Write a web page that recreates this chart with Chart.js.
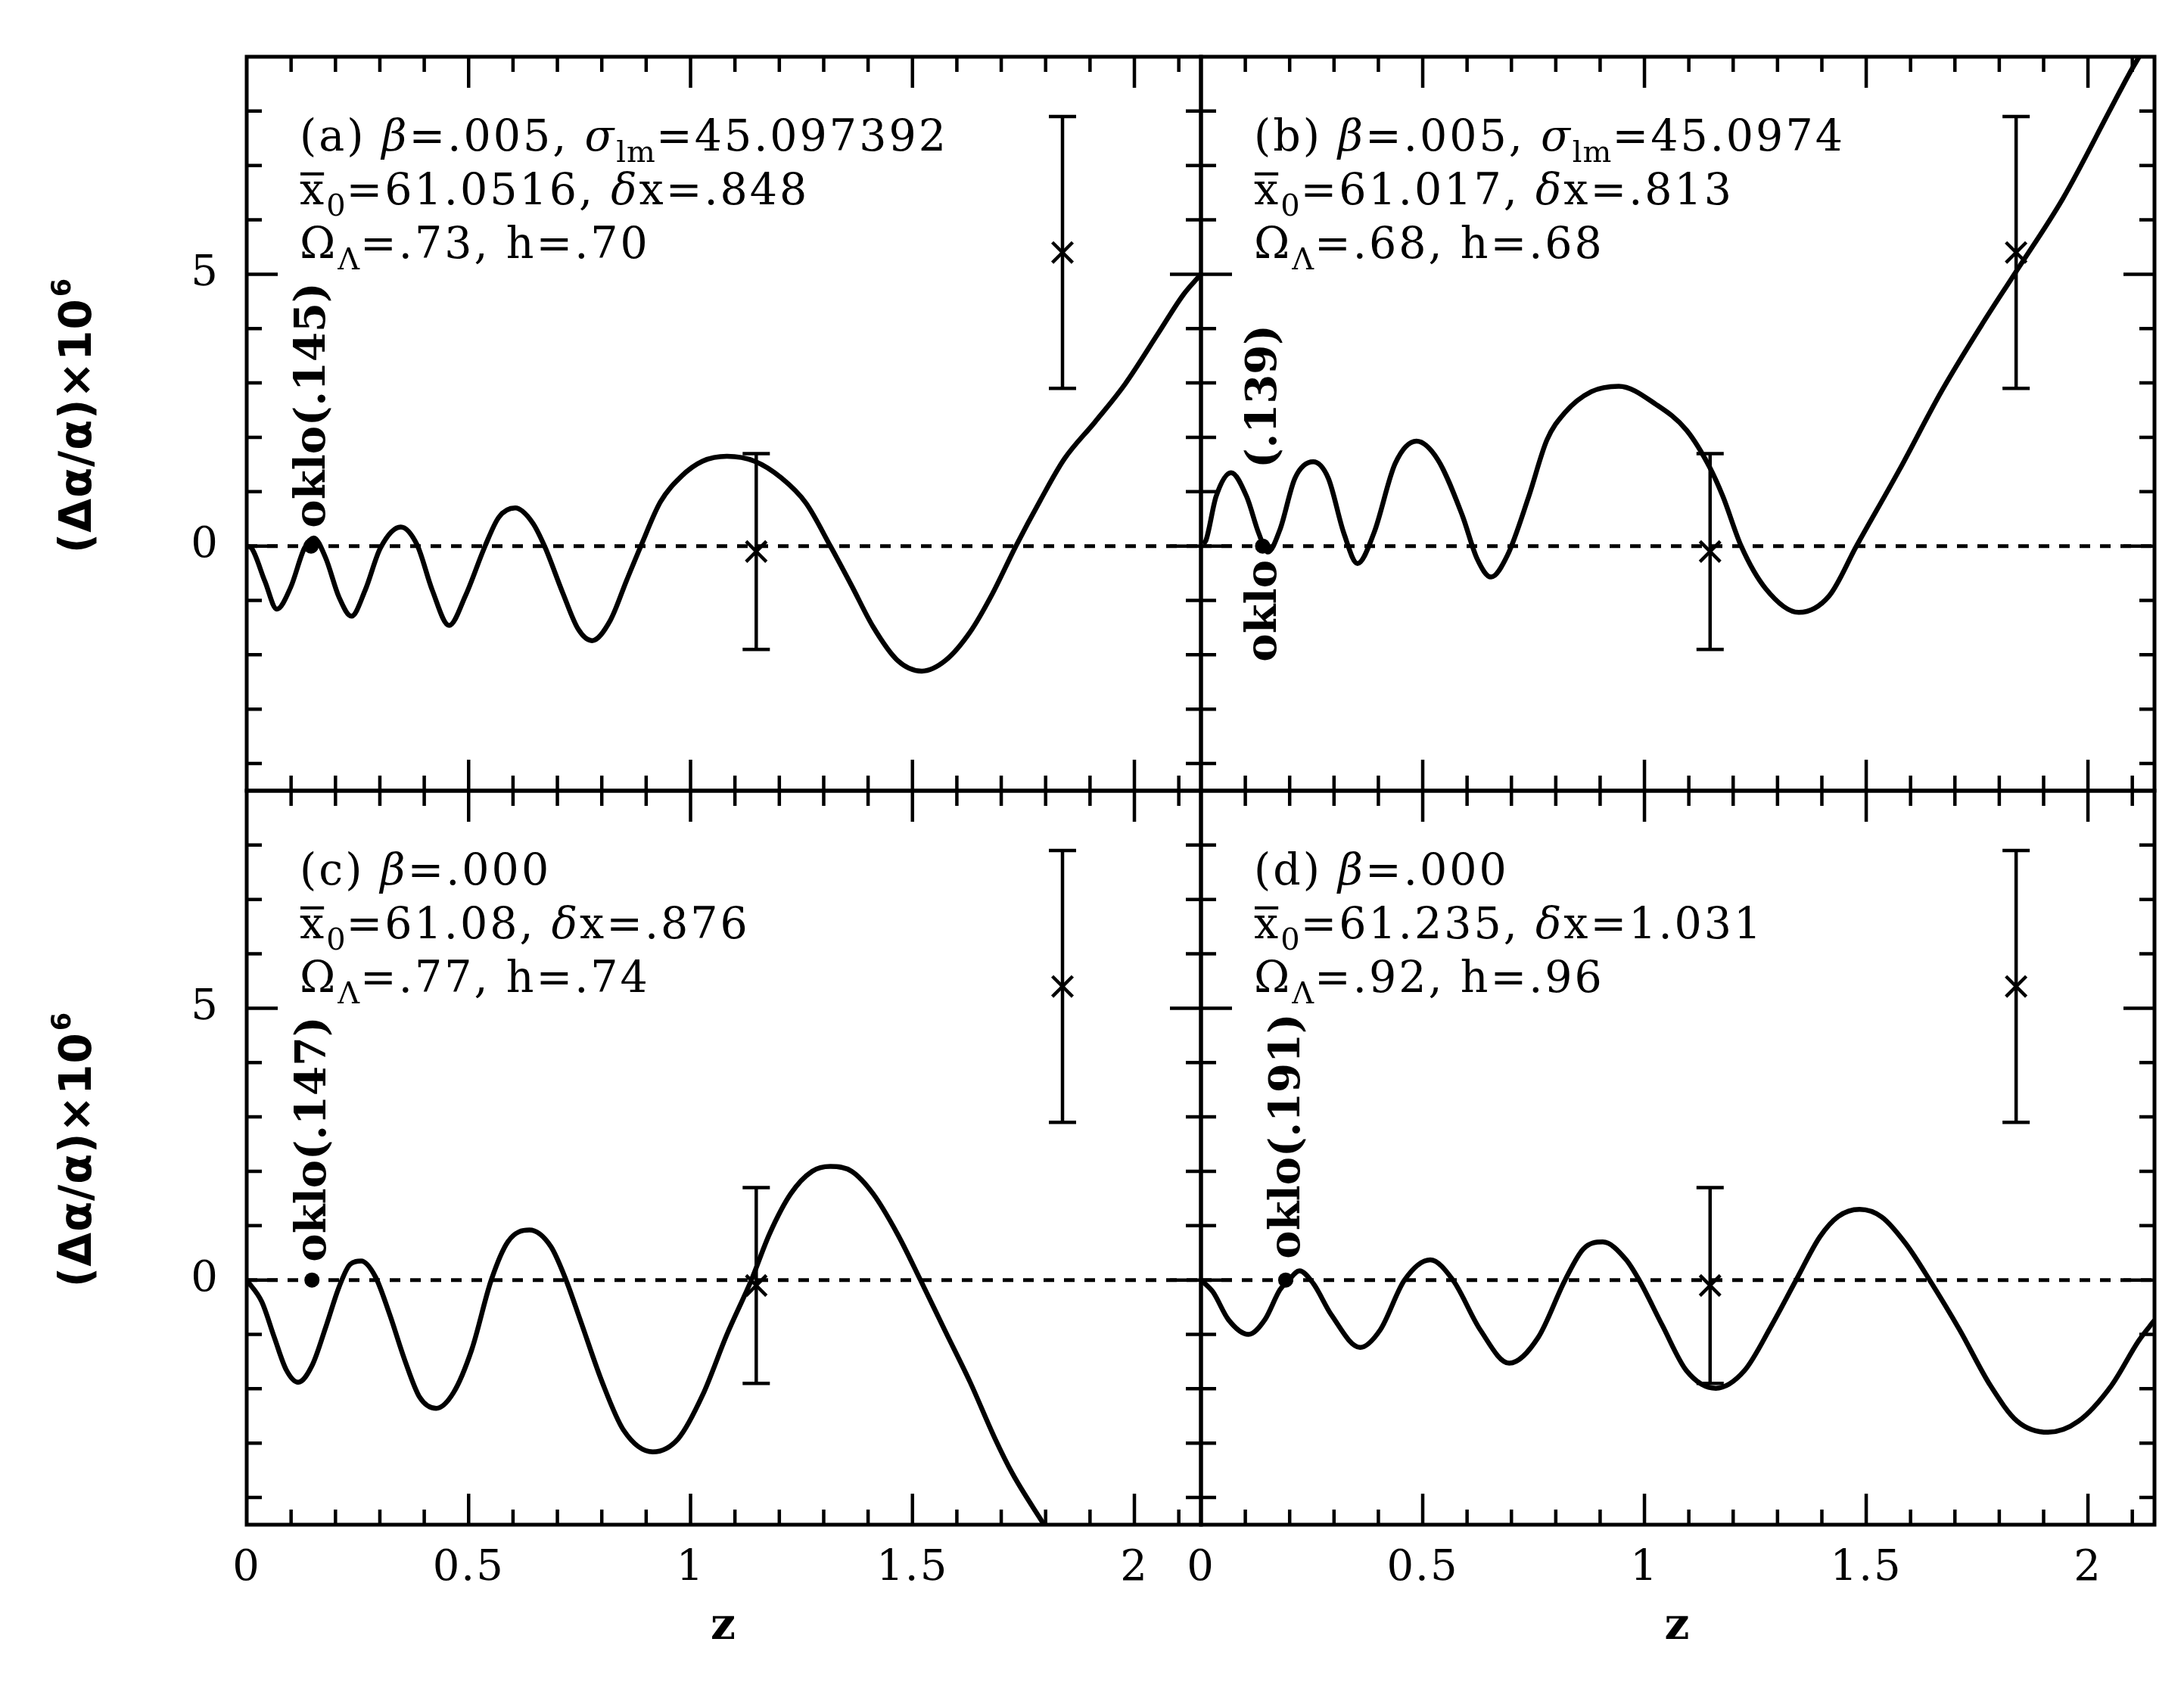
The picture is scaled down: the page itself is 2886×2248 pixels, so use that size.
<!DOCTYPE html>
<html>
<head>
<meta charset="utf-8">
<script src="https://cdn.jsdelivr.net/npm/chart.js@4.4.0/dist/chart.umd.min.js"></script>
<style>
  html, body { margin: 0; background: #fff; }
  #wrap { position: relative; width: 2886px; height: 2248px; }
  #wrap canvas { position: absolute; left: 0; top: 0; }
</style>
</head>
<body>
<div id="wrap">
  <canvas id="pa" width="2886" height="2248"></canvas>
  <canvas id="pb" width="2886" height="2248"></canvas>
  <canvas id="pc" width="2886" height="2248"></canvas>
  <canvas id="pd" width="2886" height="2248"></canvas>
</div>
<script>
// ── Data ───────────────────────────────────────
const zA = [0, 0.011, 0.041, 0.068, 0.099, 0.13, 0.151, 0.178, 0.208, 0.236, 0.267, 0.301, 0.347, 0.384,
            0.418, 0.456, 0.493, 0.537, 0.568, 0.605, 0.644, 0.671, 0.712, 0.747, 0.778, 0.819, 0.856,
            0.888, 0.932, 0.979, 1.027, 1.082, 1.144, 1.205, 1.26, 1.315, 1.363, 1.411, 1.466, 1.521,
            1.575, 1.63, 1.678, 1.733, 1.788, 1.842, 1.911, 1.979, 2.055, 2.11, 2.15];
const vA = [0, -0.04, -0.65, -1.16, -0.76, -0.04, 0.15, -0.22, -0.94, -1.29, -0.81, -0.04, 0.35, 0.02,
            -0.81, -1.46, -0.91, 0, 0.53, 0.70, 0.43, 0, -0.86, -1.53, -1.74, -1.37, -0.63,
            0, 0.81, 1.28, 1.56, 1.65, 1.56, 1.25, 0.79, 0, -0.73, -1.48, -2.10, -2.30,
            -2.10, -1.58, -0.91, 0, 0.84, 1.60, 2.28, 2.98, 3.93, 4.62, 5.0];

const zB = [0.004, 0.011, 0.034, 0.068, 0.103, 0.13, 0.151, 0.178, 0.212, 0.253, 0.287, 0.322, 0.353, 0.39,
            0.438, 0.486, 0.534, 0.589, 0.623, 0.654, 0.691, 0.739, 0.78, 0.82, 0.88, 0.942, 1.027, 1.095,
            1.147, 1.177, 1.218, 1.273, 1.348, 1.417, 1.478, 1.574, 1.67, 1.759, 1.834, 1.944, 2.053,
            2.094, 2.119, 2.15];
const vB = [0.05, 0.10, 0.91, 1.35, 0.91, 0.24, -0.11, 0.30, 1.25, 1.55, 1.25, 0.24, -0.32, 0.24,
            1.52, 1.93, 1.59, 0.57, -0.24, -0.57, -0.17, 0.91, 1.95, 2.45, 2.84, 2.94, 2.60, 2.13,
            1.45, 0.91, 0, -0.78, -1.22, -0.91, 0, 1.39, 2.85, 4.05, 5.0, 6.40, 8.07,
            8.70, 9.05, 9.50];

const zC = [0, 0.034, 0.062, 0.089, 0.116, 0.148, 0.178, 0.208, 0.233, 0.258, 0.29, 0.322, 0.356, 0.39,
            0.427, 0.466, 0.507, 0.551, 0.589, 0.637, 0.685, 0.719, 0.753, 0.801, 0.849, 0.915, 0.973,
            1.027, 1.082, 1.137, 1.178, 1.226, 1.274, 1.315, 1.363, 1.411, 1.466, 1.518, 1.575, 1.63,
            1.685, 1.726, 1.795, 1.83];
const vC = [0, -0.40, -1.05, -1.65, -1.88, -1.56, -0.87, -0.13, 0.29, 0.35, 0.06, -0.63, -1.47, -2.16,
            -2.36, -2.07, -1.28, 0, 0.71, 0.92, 0.62, 0.01, -0.77, -1.88, -2.76, -3.16, -2.91,
            -2.12, -1.00, 0, 0.85, 1.59, 2.0, 2.09, 2.0, 1.59, 0.85, 0, -0.96, -1.88,
            -2.90, -3.57, -4.48, -4.93];

const zD = [0, 0.027, 0.062, 0.107, 0.144, 0.178, 0.198, 0.222, 0.253, 0.294, 0.359, 0.404, 0.459, 0.517,
            0.568, 0.63, 0.695, 0.76, 0.821, 0.862, 0.906, 0.958, 0.988, 1.04, 1.095, 1.161, 1.225,
            1.287, 1.342, 1.396, 1.437, 1.485, 1.535, 1.59, 1.643, 1.711, 1.78, 1.841, 1.91, 1.978,
            2.053, 2.115, 2.15];
const vD = [0, -0.22, -0.73, -1.0, -0.73, -0.18, 0, 0.17, -0.06, -0.64, -1.24, -0.92, 0, 0.37,
            0, -0.92, -1.53, -1.06, 0, 0.57, 0.70, 0.38, 0, -0.83, -1.67, -1.99, -1.67,
            -0.83, 0, 0.80, 1.17, 1.30, 1.16, 0.66, 0, -0.92, -1.94, -2.60, -2.80, -2.60,
            -1.94, -1.11, -0.74];

// observed points with error bars (same in every panel)
const obsZ  = [1.148, 1.838];
const obsV  = [-0.1, 5.4];
const obsLo = [-1.9, 2.9];
const obsHi = [1.7, 7.9];

// oklo constraint
const okloZ = [0.145, 0.139, 0.147, 0.191];

// tick labels
const xTickVals   = [0, 0.5, 1, 1.5, 2];
const xTickLabels = ['0', '0.5', '1', '1.5', '2'];
const yTickVals   = [0, 5];
const yTickLabels = ['0', '5'];

// panel annotations: [text, style]  i = italic, s = subscript, b = overbar
const notesA = [
  [['(a) '], ['β', 'i'], ['=.005, '], ['σ', 'i'], ['lm', 's'], ['=45.097392']],
  [['x', 'b'], ['0', 's'], ['=61.0516, '], ['δ', 'i'], ['x=.848']],
  [['Ω'], ['Λ', 's'], ['=.73, h=.70']]
];
const notesB = [
  [['(b) '], ['β', 'i'], ['=.005, '], ['σ', 'i'], ['lm', 's'], ['=45.0974']],
  [['x', 'b'], ['0', 's'], ['=61.017, '], ['δ', 'i'], ['x=.813']],
  [['Ω'], ['Λ', 's'], ['=.68, h=.68']]
];
const notesC = [
  [['(c) '], ['β', 'i'], ['=.000']],
  [['x', 'b'], ['0', 's'], ['=61.08, '], ['δ', 'i'], ['x=.876']],
  [['Ω'], ['Λ', 's'], ['=.77, h=.74']]
];
const notesD = [
  [['(d) '], ['β', 'i'], ['=.000']],
  [['x', 'b'], ['0', 's'], ['=61.235, '], ['δ', 'i'], ['x=1.031']],
  [['Ω'], ['Λ', 's'], ['=.92, h=.96']]
];

// ── Layout ─────────────────────────────────────
const PAGE_W = 2886, PAGE_H = 2248;
const Z_MAX = 2.15, V_MIN = -4.5, V_MAX = 9;
const colX = [326, 1587, 2847];
const rowY = [75, 1045, 2015];
const SERIF = '"DejaVu Serif", serif';
const SANS  = '"DejaVu Sans", sans-serif';

// ── Rich text helper ───────────────────────────
function drawRich(ctx, parts, x, y, size) {
  let cx = x;
  ctx.textAlign = 'left';
  ctx.textBaseline = 'alphabetic';
  parts.forEach(([t, st]) => {
    const sub = st === 's';
    const fs = sub ? size * 0.7 : size;
    ctx.font = (st === 'i' ? 'italic ' : '') + fs + 'px ' + SERIF;
    ctx.letterSpacing = sub ? '1px' : '3px';
    const dy = sub ? size * 0.27 : 0;
    ctx.fillText(t, cx, y + dy);
    const w = ctx.measureText(t).width;
    if (st === 'b') {
      ctx.fillRect(cx + 1, y - size * 0.74, w - 4, 4);
    }
    cx += w;
  });
  ctx.letterSpacing = '0px';
}

function drawRotated(ctx, text, x, y, font) {
  ctx.save();
  ctx.translate(x, y);
  ctx.rotate(-Math.PI / 2);
  ctx.font = font;
  ctx.textAlign = 'left';
  ctx.textBaseline = 'alphabetic';
  ctx.fillText(text, 0, 0);
  ctx.restore();
}

// ── Decoration plugin (frame, ticks, error bars, text) ──
function makeDeco(p) {
  return {
    id: 'deco',
    afterDatasetsDraw(chart) {
      const { ctx, chartArea: a, scales: { x, y } } = chart;
      ctx.save();
      ctx.strokeStyle = '#000';
      ctx.fillStyle = '#000';

      // error bars
      ctx.lineWidth = 4.5;
      ctx.beginPath();
      obsZ.forEach((z, i) => {
        const px = x.getPixelForValue(z);
        const lo = y.getPixelForValue(obsLo[i]);
        const hi = y.getPixelForValue(obsHi[i]);
        ctx.moveTo(px, lo); ctx.lineTo(px, hi);
        ctx.moveTo(px - 18, lo); ctx.lineTo(px + 18, lo);
        ctx.moveTo(px - 18, hi); ctx.lineTo(px + 18, hi);
      });
      ctx.stroke();

      // frame
      ctx.lineWidth = 5;
      ctx.strokeRect(a.left, a.top, a.right - a.left, a.bottom - a.top);

      // ticks on all four sides, pointing inward
      ctx.lineWidth = 4.5;
      ctx.beginPath();
      for (let k = 1; k <= Math.floor(Z_MAX * 10 + 1e-6); k++) {
        const px = x.getPixelForValue(k / 10);
        const len = k % 5 === 0 ? 41 : 20;
        ctx.moveTo(px, a.top);    ctx.lineTo(px, a.top + len);
        ctx.moveTo(px, a.bottom); ctx.lineTo(px, a.bottom - len);
      }
      for (let v = Math.ceil(V_MIN); v < V_MAX; v++) {
        const py = y.getPixelForValue(v);
        const len = v % 5 === 0 ? 41 : 20;
        ctx.moveTo(a.left, py);  ctx.lineTo(a.left + len, py);
        ctx.moveTo(a.right, py); ctx.lineTo(a.right - len, py);
      }
      ctx.stroke();

      // tick labels
      ctx.font = '56px ' + SERIF;
      ctx.letterSpacing = '2px';
      ctx.textBaseline = 'middle';
      if (p.yLabels) {
        ctx.textAlign = 'right';
        yTickVals.forEach((v, i) => ctx.fillText(yTickLabels[i], a.left - 36, y.getPixelForValue(v)));
      }
      if (p.xLabels) {
        ctx.textAlign = 'center';
        xTickVals.forEach((v, i) => ctx.fillText(xTickLabels[i], x.getPixelForValue(v), a.bottom + 58));
        ctx.font = 'bold 58px ' + SERIF;
        ctx.fillText('z', (a.left + a.right) / 2, a.bottom + 136);
      }
      ctx.letterSpacing = '0px';

      // y axis title
      if (p.yLabels) {
        const cy = (a.top + a.bottom) / 2 - 10;
        ctx.save();
        ctx.translate(120, cy);
        ctx.rotate(-Math.PI / 2);
        ctx.textBaseline = 'alphabetic';
        ctx.textAlign = 'left';
        ctx.letterSpacing = '1px';
        ctx.font = 'bold 58px ' + SANS;
        const main = '(Δα/α)×10';
        const wMain = ctx.measureText(main).width;
        ctx.font = 'bold 35px ' + SANS;
        const wSup = ctx.measureText('6').width;
        const x0 = -(wMain + wSup) / 2;
        ctx.font = 'bold 58px ' + SANS;
        ctx.fillText(main, x0, 0);
        ctx.font = 'bold 35px ' + SANS;
        ctx.fillText('6', x0 + wMain + 2, -27);
        ctx.restore();
      }

      // panel annotation
      p.notes.forEach((line, i) => drawRich(ctx, line, a.left + 70, a.top + 124 + i * 71, 57));

      // oklo label
      const ox = x.getPixelForValue(p.oklo) + 18;
      const oy = y.getPixelForValue(0);
      p.okloText.forEach(([t, dy]) => drawRotated(ctx, t, ox, oy + dy, 'bold 56px ' + SERIF));

      ctx.restore();
    }
  };
}

// ── Build one panel ────────────────────────────
function makePanel(id, p) {
  const padding = {
    left: p.left, top: p.top,
    right: PAGE_W - p.right, bottom: PAGE_H - p.bottom
  };
  return new Chart(document.getElementById(id), {
    type: 'line',
    data: {
      datasets: [
        {
          data: p.z.map((z, i) => ({ x: z, y: p.v[i] })),
          borderColor: '#000', borderWidth: 6.5, pointRadius: 0, pointHitRadius: 0,
          cubicInterpolationMode: 'monotone', fill: false
        },
        {
          data: [{ x: 0, y: 0 }, { x: Z_MAX, y: 0 }],
          borderColor: '#000', borderWidth: 5, borderDash: [14, 13], pointRadius: 0
        },
        {
          data: obsZ.map((z, i) => ({ x: z, y: obsV[i] })),
          showLine: false, pointStyle: 'crossRot', pointRadius: 19,
          borderColor: '#000', borderWidth: 4.5
        },
        {
          data: [{ x: p.oklo, y: 0 }],
          showLine: false, pointStyle: 'circle', pointRadius: 10,
          backgroundColor: '#000', borderColor: '#000', borderWidth: 0
        }
      ]
    },
    options: {
      responsive: false,
      animation: false,
      devicePixelRatio: 1,
      layout: { padding },
      scales: {
        x: { type: 'linear', min: 0, max: Z_MAX, display: false },
        y: { type: 'linear', min: V_MIN, max: V_MAX, display: false }
      },
      plugins: { legend: { display: false }, tooltip: { enabled: false } }
    },
    plugins: [makeDeco(p)]
  });
}

// ── Init ───────────────────────────────────────
makePanel('pa', {
  left: colX[0], right: colX[1], top: rowY[0], bottom: rowY[1],
  z: zA, v: vA, oklo: okloZ[0], notes: notesA,
  okloText: [['oklo(.145)', -24]], yLabels: true, xLabels: false
});
makePanel('pb', {
  left: colX[1], right: colX[2], top: rowY[0], bottom: rowY[1],
  z: zB, v: vB, oklo: okloZ[1], notes: notesB,
  okloText: [['oklo', 153], ['(.139)', -103]], yLabels: false, xLabels: false
});
makePanel('pc', {
  left: colX[0], right: colX[1], top: rowY[1], bottom: rowY[2],
  z: zC, v: vC, oklo: okloZ[2], notes: notesC,
  okloText: [['oklo(.147)', -24]], yLabels: true, xLabels: true
});
makePanel('pd', {
  left: colX[1], right: colX[2], top: rowY[1], bottom: rowY[2],
  z: zD, v: vD, oklo: okloZ[3], notes: notesD,
  okloText: [['oklo(.191)', -28]], yLabels: false, xLabels: true
});
</script>
</body>
</html>
